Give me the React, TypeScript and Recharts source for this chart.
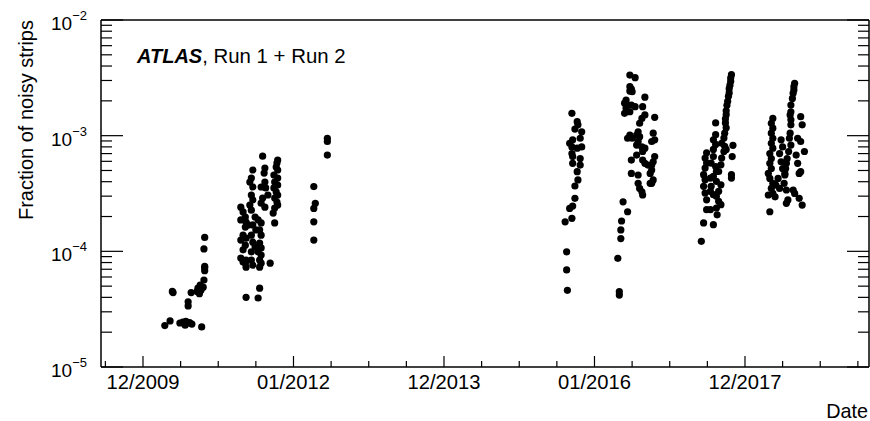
import React from 'react';
import { ScatterChart, Scatter, XAxis, YAxis } from 'recharts';

const FONT = '"Liberation Sans", Arial, Helvetica, sans-serif';

// x axis: decimal years; majors every 2 years, minors every half year
const xMajorYears = [2010, 2012, 2014, 2016, 2018];
const xMajorLabels = ['12/2009', '01/2012', '12/2013', '01/2016', '12/2017'];
const xMinorYears = [
  2009.5, 2010.5, 2011, 2011.5, 2012.5, 2013, 2013.5, 2014.5,
  2015, 2015.5, 2016.5, 2017, 2017.5, 2018.5, 2019, 2019.5,
];
const xDomain = [2009.442, 2019.648];

// y axis: log scale, decades and minor steps
const yDecades = [1e-5, 1e-4, 1e-3, 1e-2];
const yDecadeExponents = ['−5', '−4', '−3', '−2'];
const yMinorSteps = [2, 3, 4, 5, 6, 7, 8, 9];

// [decimal year, fraction of noisy strips]
const run2010 = [
  [2010.29, 2.28e-5], [2010.36, 2.5e-5], [2010.39, 4.5e-5], [2010.40, 4.4e-5],
  [2010.49, 2.4e-5], [2010.53, 2.45e-5], [2010.56, 2.3e-5], [2010.57, 2.48e-5],
  [2010.60, 2.4e-5], [2010.62, 2.42e-5], [2010.65, 2.35e-5], [2010.78, 2.22e-5],
  [2010.60, 3.66e-5], [2010.60, 3.37e-5], [2010.64, 4.4e-5], [2010.72, 4.5e-5],
  [2010.73, 4.8e-5], [2010.76, 5.1e-5], [2010.77, 4.6e-5], [2010.80, 4.9e-5],
  [2010.75, 4.3e-5], [2010.81, 5.65e-5], [2010.82, 6.8e-5], [2010.82, 7.2e-5],
  [2010.82, 7.4e-5], [2010.81, 1.05e-4], [2010.82, 1.32e-4],
];

const run2011 = [
  [2011.59, 6.65e-4], [2011.79, 6.15e-4], [2011.78, 5.8e-4], [2011.46, 5.05e-4],
  [2011.62, 5.25e-4], [2011.61, 4.75e-4], [2011.77, 5.35e-4], [2011.79, 5.05e-4],
  [2011.74, 4.57e-4], [2011.79, 4.3e-4], [2011.75, 3.97e-4], [2011.79, 3.74e-4],
  [2011.74, 3.53e-4], [2011.77, 3.26e-4], [2011.79, 3.07e-4], [2011.75, 2.89e-4],
  [2011.78, 2.67e-4], [2011.79, 2.51e-4], [2011.75, 2.37e-4], [2011.73, 2.14e-4],
  [2011.75, 1.76e-4], [2011.44, 4.3e-4], [2011.42, 3.97e-4], [2011.46, 3.6e-4],
  [2011.62, 3.97e-4], [2011.57, 3.6e-4], [2011.63, 3.53e-4], [2011.66, 3.07e-4],
  [2011.44, 3.07e-4], [2011.46, 2.78e-4], [2011.42, 2.51e-4], [2011.44, 2.27e-4],
  [2011.59, 2.89e-4], [2011.57, 2.61e-4], [2011.62, 2.41e-4], [2011.30, 2.41e-4],
  [2011.33, 2.19e-4], [2011.36, 1.98e-4], [2011.30, 1.87e-4], [2011.37, 1.79e-4],
  [2011.36, 1.62e-4], [2011.40, 1.69e-4], [2011.49, 1.98e-4], [2011.53, 1.87e-4],
  [2011.46, 1.69e-4], [2011.50, 1.53e-4], [2011.44, 1.38e-4], [2011.57, 1.76e-4],
  [2011.55, 1.53e-4], [2011.57, 1.38e-4], [2011.33, 1.38e-4], [2011.30, 1.25e-4],
  [2011.36, 1.13e-4], [2011.33, 1.03e-4], [2011.37, 1.30e-4], [2011.46, 1.20e-4],
  [2011.49, 1.09e-4], [2011.44, 9.9e-5], [2011.55, 1.18e-4], [2011.57, 1.07e-4],
  [2011.53, 9.9e-5], [2011.57, 9.3e-5], [2011.30, 8.75e-5], [2011.33, 8.1e-5],
  [2011.36, 7.9e-5], [2011.37, 8.4e-5], [2011.44, 8.4e-5], [2011.46, 7.6e-5],
  [2011.55, 8.4e-5], [2011.57, 7.9e-5], [2011.55, 7.3e-5], [2011.69, 7.9e-5],
  [2011.37, 7.3e-5], [2011.55, 4.8e-5], [2011.37, 4.0e-5], [2011.53, 3.95e-5],
];

const run2012 = [
  [2012.27, 3.63e-4], [2012.29, 2.6e-4], [2012.27, 2.35e-4], [2012.27, 1.8e-4],
  [2012.27, 1.25e-4], [2012.45, 9.5e-4], [2012.45, 8.9e-4], [2012.45, 6.8e-4],
];

const run2015 = [
  [2015.70, 1.56e-3], [2015.77, 1.32e-3], [2015.78, 1.24e-3], [2015.74, 1.14e-3],
  [2015.83, 1.08e-3], [2015.81, 9.5e-4], [2015.71, 9.2e-4], [2015.67, 8.6e-4],
  [2015.83, 8.0e-4], [2015.70, 8.0e-4], [2015.77, 7.8e-4], [2015.70, 7.0e-4],
  [2015.71, 6.6e-4], [2015.81, 6.35e-4], [2015.81, 5.57e-4], [2015.71, 5.77e-4],
  [2015.77, 4.88e-4], [2015.78, 4.14e-4], [2015.74, 3.67e-4], [2015.74, 2.87e-4],
  [2015.71, 2.46e-4], [2015.67, 2.35e-4], [2015.70, 1.93e-4], [2015.61, 1.80e-4],
  [2015.63, 9.9e-5], [2015.63, 6.9e-5], [2015.64, 4.6e-5],
];

const run2016 = [
  [2016.47, 3.34e-3], [2016.54, 3.17e-3], [2016.47, 2.65e-3], [2016.49, 2.53e-3],
  [2016.50, 2.4e-3], [2016.47, 2.43e-3], [2016.67, 2.15e-3], [2016.42, 2.03e-3],
  [2016.40, 1.91e-3], [2016.44, 1.84e-3], [2016.42, 1.73e-3], [2016.47, 1.61e-3],
  [2016.40, 1.56e-3], [2016.49, 1.84e-3], [2016.54, 1.78e-3], [2016.64, 1.78e-3],
  [2016.67, 1.51e-3], [2016.63, 1.41e-3], [2016.60, 1.28e-3], [2016.80, 1.44e-3],
  [2016.58, 1.08e-3], [2016.56, 1.01e-3], [2016.60, 9.8e-4], [2016.47, 1.01e-3],
  [2016.44, 9.5e-4], [2016.50, 9.5e-4], [2016.58, 8.9e-4], [2016.56, 8.3e-4],
  [2016.63, 8.0e-4], [2016.78, 1.05e-3], [2016.80, 9.2e-4], [2016.76, 8.9e-4],
  [2016.67, 7.8e-4], [2016.64, 7.3e-4], [2016.56, 6.8e-4], [2016.49, 6.15e-4],
  [2016.64, 6.15e-4], [2016.67, 5.77e-4], [2016.80, 6.6e-4], [2016.78, 5.95e-4],
  [2016.76, 5.57e-4], [2016.71, 5.57e-4], [2016.76, 5.05e-4], [2016.74, 4.72e-4],
  [2016.49, 4.72e-4], [2016.58, 4.57e-4], [2016.78, 4.14e-4], [2016.76, 3.87e-4],
  [2016.74, 3.87e-4], [2016.58, 3.87e-4], [2016.60, 3.5e-4], [2016.63, 3.27e-4],
  [2016.64, 3.07e-4], [2016.38, 2.68e-4], [2016.44, 2.2e-4], [2016.36, 1.83e-4],
  [2016.35, 1.53e-4], [2016.35, 1.29e-4], [2016.31, 8.7e-5], [2016.33, 4.48e-5],
  [2016.33, 4.19e-5],
];

const run2017 = [
  [2017.82, 3.37e-3], [2017.81, 3.15e-3], [2017.81, 2.95e-3], [2017.80, 2.73e-3],
  [2017.79, 2.55e-3], [2017.79, 2.34e-3], [2017.78, 2.19e-3], [2017.77, 1.98e-3],
  [2017.76, 1.83e-3], [2017.75, 1.64e-3], [2017.75, 1.52e-3], [2017.74, 1.40e-3],
  [2017.74, 1.29e-3], [2017.75, 1.17e-3], [2017.73, 1.05e-3], [2017.61, 1.29e-3],
  [2017.72, 9.55e-4], [2017.69, 8.6e-4], [2017.73, 8.1e-4], [2017.75, 7.6e-4],
  [2017.72, 7.3e-4], [2017.84, 8.25e-4], [2017.83, 6.6e-4], [2017.61, 1.02e-3],
  [2017.58, 9.2e-4], [2017.61, 8.4e-4], [2017.58, 7.6e-4], [2017.49, 7.1e-4],
  [2017.47, 6.4e-4], [2017.49, 5.8e-4], [2017.47, 5.25e-4], [2017.45, 4.6e-4],
  [2017.47, 4.16e-4], [2017.45, 3.65e-4], [2017.47, 3.19e-4], [2017.49, 2.79e-4],
  [2017.58, 6.6e-4], [2017.55, 5.8e-4], [2017.61, 5.4e-4], [2017.62, 4.9e-4],
  [2017.58, 4.45e-4], [2017.54, 4.3e-4], [2017.69, 6.4e-4], [2017.68, 5.6e-4],
  [2017.65, 4.9e-4], [2017.62, 4.03e-4], [2017.68, 3.76e-4], [2017.65, 3.3e-4],
  [2017.62, 2.99e-4], [2017.65, 2.71e-4], [2017.68, 2.53e-4], [2017.82, 4.6e-4],
  [2017.82, 4.3e-4], [2017.55, 3.65e-4], [2017.54, 3.3e-4], [2017.58, 3.09e-4],
  [2017.49, 2.29e-4], [2017.54, 2.29e-4], [2017.62, 2.37e-4], [2017.63, 2.07e-4],
  [2017.45, 1.76e-4], [2017.58, 1.7e-4], [2017.42, 1.22e-4],
];

const run2018 = [
  [2018.66, 2.84e-3], [2018.65, 2.65e-3], [2018.65, 2.48e-3], [2018.64, 2.33e-3],
  [2018.63, 2.1e-3], [2018.61, 1.84e-3], [2018.61, 1.61e-3], [2018.60, 1.51e-3],
  [2018.61, 1.37e-3], [2018.61, 1.24e-3], [2018.60, 1.05e-3], [2018.59, 9.5e-4],
  [2018.61, 8.3e-4], [2018.58, 7.3e-4], [2018.56, 6.35e-4], [2018.55, 5.77e-4],
  [2018.54, 5.2e-4], [2018.53, 4.57e-4], [2018.52, 3.87e-4], [2018.55, 3.39e-4],
  [2018.74, 1.46e-3], [2018.76, 1.24e-3], [2018.70, 9.5e-4], [2018.74, 8.9e-4],
  [2018.68, 6.8e-4], [2018.79, 7.3e-4], [2018.70, 5.77e-4], [2018.74, 4.88e-4],
  [2018.72, 4.72e-4], [2018.64, 3.39e-4], [2018.66, 3.17e-4], [2018.72, 2.87e-4],
  [2018.76, 2.51e-4], [2018.57, 2.78e-4], [2018.55, 2.6e-4], [2018.37, 1.41e-3],
  [2018.35, 1.28e-3], [2018.37, 1.16e-3], [2018.35, 1.05e-3], [2018.37, 9.5e-4],
  [2018.35, 8.6e-4], [2018.37, 7.8e-4], [2018.33, 7.0e-4], [2018.35, 6.35e-4],
  [2018.33, 5.77e-4], [2018.35, 5.2e-4], [2018.31, 4.72e-4], [2018.33, 4.27e-4],
  [2018.37, 3.87e-4], [2018.35, 3.5e-4], [2018.37, 3.17e-4], [2018.48, 9.2e-4],
  [2018.50, 8.0e-4], [2018.46, 7.0e-4], [2018.48, 5.95e-4], [2018.50, 5.2e-4],
  [2018.53, 4.72e-4], [2018.44, 4.27e-4], [2018.41, 3.74e-4], [2018.46, 3.5e-4],
  [2018.31, 3.07e-4], [2018.40, 2.96e-4], [2018.33, 2.2e-4],
];

const points = [run2010, run2011, run2012, run2015, run2016, run2017, run2018]
  .flat()
  .map(([t, v]) => ({ t, v }));

const xTicks = [...xMajorYears, ...xMinorYears].sort((a, b) => a - b);
const yTicks = [
  ...yDecades,
  ...yDecades.slice(0, 3).flatMap((d) => yMinorSteps.map((k) => k * d)),
].sort((a, b) => a - b);

const decadeIndex = (v: number) =>
  yDecades.findIndex((d) => Math.abs(Math.log10(d) - Math.log10(v)) < 1e-6);

const BottomTick = (props: any) => {
  const { x, y, payload } = props;
  const i = xMajorYears.indexOf(payload.value);
  return (
    <g>
      <line x1={x} x2={x} y1={y} y2={y - (i >= 0 ? 11 : 6)} stroke="#000" strokeWidth={1.2} />
      {i >= 0 && (
        <text x={x} y={y + 22} textAnchor="middle" fontSize={20.2} fontFamily={FONT} fill="#000">
          {xMajorLabels[i]}
        </text>
      )}
    </g>
  );
};

const TopTick = (props: any) => {
  const { x, y, payload } = props;
  const major = xMajorYears.indexOf(payload.value) >= 0;
  return <line x1={x} x2={x} y1={y} y2={y + (major ? 11 : 5)} stroke="#000" strokeWidth={1.2} />;
};

const LeftTick = (props: any) => {
  const { x, y, payload } = props;
  const i = decadeIndex(payload.value);
  return (
    <g>
      <line x1={x} x2={x + (i >= 0 ? 22 : 11)} y1={y} y2={y} stroke="#000" strokeWidth={1.2} />
      {i >= 0 && (
        <text x={87} y={y + 10} textAnchor="end" fontFamily={FONT} fill="#000">
          <tspan fontSize={19}>10</tspan>
          <tspan fontSize={13} dy={-10}>{yDecadeExponents[i]}</tspan>
        </text>
      )}
    </g>
  );
};

const RightTick = (props: any) => {
  const { x, y, payload } = props;
  const major = decadeIndex(payload.value) >= 0;
  return <line x1={x} x2={x - (major ? 22 : 11)} y1={y} y2={y} stroke="#000" strokeWidth={1.2} />;
};

const Dot = (props: any) => <circle cx={props.cx} cy={props.cy} r={3.6} fill="#000" />;

const axisLine = { stroke: '#000', strokeWidth: 1.5 };

export default function App() {
  return (
    <div style={{ position: 'absolute', left: 0, top: 0, width: 870, height: 421, background: '#fff' }}>
      <ScatterChart width={870} height={421} margin={{ top: 0, right: 0, bottom: 0, left: 0 }}>
        <XAxis
          xAxisId="b" dataKey="t" type="number" domain={xDomain} allowDataOverflow
          ticks={xTicks} interval={0} height={54} tickSize={0} tickMargin={0}
          tick={<BottomTick />} tickLine={false} axisLine={axisLine}
        />
        <XAxis
          xAxisId="t" orientation="top" type="number" domain={xDomain} allowDataOverflow
          ticks={xTicks} interval={0} height={20} tickSize={0} tickMargin={0}
          tick={<TopTick />} tickLine={false} axisLine={axisLine}
        />
        <YAxis
          yAxisId="l" dataKey="v" type="number" scale="log" domain={[1e-5, 1e-2]} allowDataOverflow
          ticks={yTicks} interval={0} width={101} tickSize={0} tickMargin={0}
          tick={<LeftTick />} tickLine={false} axisLine={axisLine}
        />
        <YAxis
          yAxisId="r" orientation="right" type="number" scale="log" domain={[1e-5, 1e-2]} allowDataOverflow
          ticks={yTicks} interval={0} width={1} tickSize={0} tickMargin={0}
          tick={<RightTick />} tickLine={false} axisLine={axisLine}
        />
        <Scatter xAxisId="b" yAxisId="l" data={points} shape={Dot} isAnimationActive={false} />
      </ScatterChart>
      <svg
        width={870} height={421}
        style={{ position: 'absolute', left: 0, top: 0, pointerEvents: 'none' }}
        fontFamily={FONT}
      >
        <text transform="translate(33,20) rotate(-90)" textAnchor="end" fontSize={20} fill="#000">
          Fraction of noisy strips
        </text>
        <text x={868} y={418} textAnchor="end" fontSize={19.8} fill="#000">Date</text>
        <text x={137} y={63} fill="#000">
          <tspan fontSize={20} fontWeight="bold" fontStyle="italic">ATLAS</tspan>
          <tspan fontSize={20.4}>, Run 1 + Run 2</tspan>
        </text>
      </svg>
    </div>
  );
}
